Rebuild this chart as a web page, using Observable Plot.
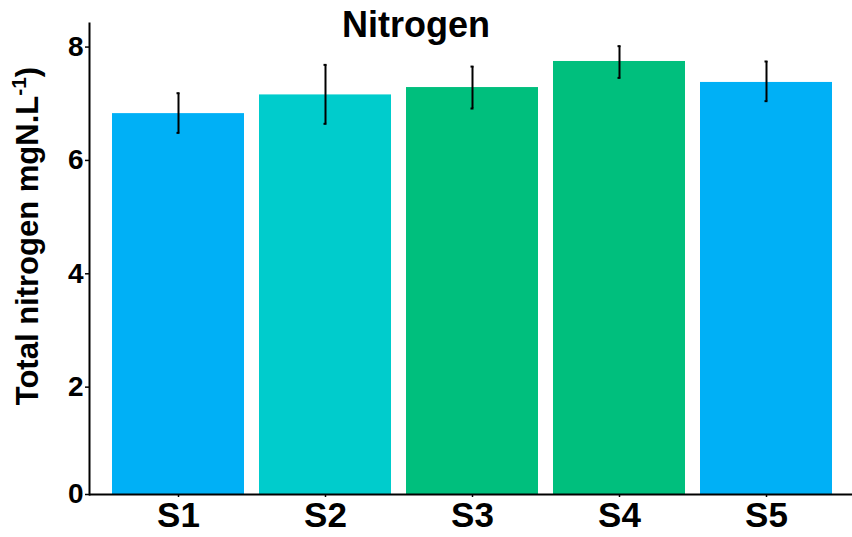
<!DOCTYPE html>
<html>
<head>
<meta charset="utf-8">
<script src="https://cdn.jsdelivr.net/npm/d3@7"></script>
<script src="https://cdn.jsdelivr.net/npm/@observablehq/plot@0.6"></script>
<style>
  html, body { margin: 0; padding: 0; background: #ffffff; overflow: hidden; }
  #chart { position: relative; width: 852px; height: 537px; }
</style>
</head>
<body>
<div id="chart"></div>
<script>
const sites = ["S1", "S2", "S3", "S4", "S5"];
const means = [6.72, 7.05, 7.18, 7.64, 7.27];
const lower = [6.38, 6.54, 6.81, 7.35, 6.94];
const upper = [7.08, 7.58, 7.55, 7.91, 7.64];
const barColors = ["#00B0F6", "#00CCCC", "#00BF7D", "#00BF7D", "#00B0F6"];
const yTicks = [0, 2, 4, 6, 8];
const titleText = "Nitrogen";
const yLabelMain = "Total nitrogen mgN.L";
const yLabelSup = "-1";
const yLabelEnd = ")";

const data = sites.map((s, i) => ({site: s, mean: means[i], lo: lower[i], hi: upper[i]}));

const font = "'Liberation Sans', Arial, Helvetica, sans-serif";

const plot = Plot.plot({
  width: 852,
  height: 537,
  marginTop: 23,
  marginBottom: 43,
  marginLeft: 89,
  marginRight: 0,
  style: {fontFamily: font, color: "#000", background: "#fff", overflow: "visible"},
  x: {domain: sites, range: [89, 855], paddingInner: 0.1, paddingOuter: 0.15},
  y: {domain: [0, 8.31]},
  color: {domain: sites, range: barColors},
  marks: [
    Plot.barY(data, {x: "site", y: "mean", fill: "site"}),
    Plot.ruleX(data, {x: "site", y1: "lo", y2: "hi", stroke: "#000", strokeWidth: 2}),
    Plot.tickY(data, {x: "site", y: "lo", stroke: "#000", strokeWidth: 2, insetLeft: 64.5, insetRight: 64.5}),
    Plot.tickY(data, {x: "site", y: "hi", stroke: "#000", strokeWidth: 2, insetLeft: 64.5, insetRight: 64.5}),
    Plot.axisY(yTicks.filter(t => t !== 0), {tickSize: 4, tickPadding: 2, fontSize: 28, fontWeight: "bold", dy: 6, label: null, strokeWidth: 1.5, tickFormat: d => String(d)}),
    Plot.axisY(yTicks.filter(t => t === 0), {tickSize: 4, tickPadding: 2, fontSize: 28, fontWeight: "bold", dy: 0, label: null, strokeWidth: 1.5, tickFormat: d => String(d)}),
    Plot.axisX({tickSize: 3, tickPadding: 5, fontSize: 35, fontWeight: "bold", label: null, strokeWidth: 1.5}),
    Plot.frame({anchor: "left", stroke: "#000", strokeWidth: 2}),
    Plot.ruleY([0], {stroke: "#000", strokeWidth: 2})
  ]
});

document.getElementById("chart").appendChild(plot);

const svg = d3.select(plot);
svg.append("text")
  .attr("x", 416)
  .attr("y", 37)
  .attr("text-anchor", "middle")
  .attr("font-family", font)
  .attr("font-size", 36)
  .attr("font-weight", "bold")
  .attr("fill", "#000")
  .text(titleText);

const yl = svg.append("text")
  .attr("transform", "translate(38,236) rotate(-90)")
  .attr("text-anchor", "middle")
  .attr("font-family", font)
  .attr("font-size", 31)
  .attr("font-weight", "bold")
  .attr("fill", "#000");
yl.append("tspan").text(yLabelMain);
yl.append("tspan").attr("font-size", 21).attr("dy", -12).text(yLabelSup);
yl.append("tspan").attr("dy", 12).text(yLabelEnd);
</script>
</body>
</html>
